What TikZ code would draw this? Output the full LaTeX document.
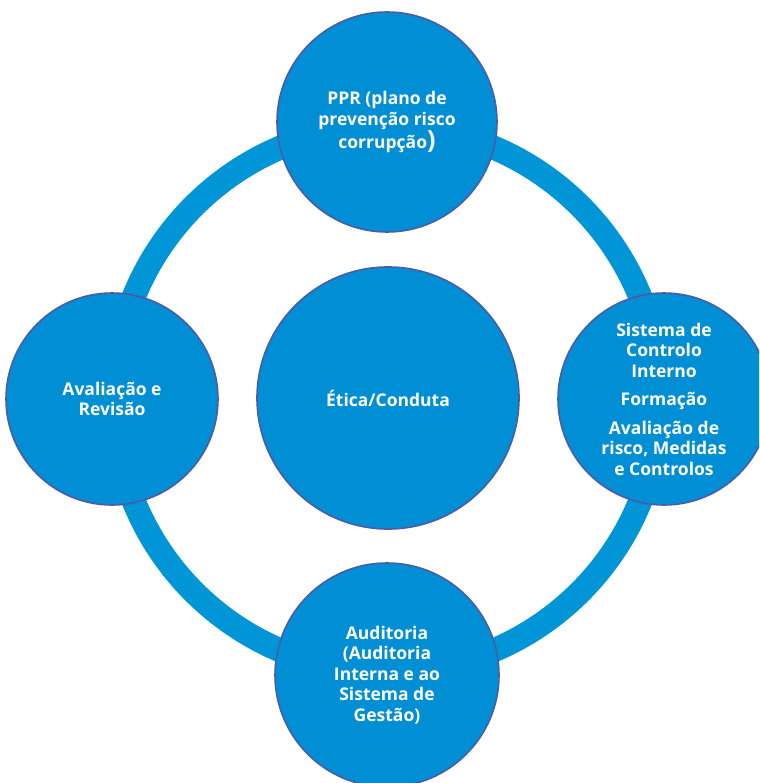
\documentclass[tikz,border=0pt]{standalone}
\usepackage{fontspec}
\setmainfont{Open Sans}
\definecolor{ringblue}{HTML}{0095D6}
\definecolor{fillblue}{HTML}{008FD5}
\definecolor{edgeblue}{HTML}{4A5CA8}
\begin{document}
\begin{tikzpicture}[x=1pt,y=-1pt,
  bub/.style={circle, fill=fillblue, draw=edgeblue, line width=1.6pt, text=white,
    font=\bfseries\fontsize{17.5}{20.5}\selectfont, align=center, inner sep=0pt},
  ringline/.style={draw=ringblue, line width=24pt}
]
\useasboundingbox (0,0) rectangle (759,783);
\clip (0,0) rectangle (759,783);
\coordinate (hub) at (387,399);
\draw[ringline] (hub) circle[radius=273];
\node[bub, minimum size=220pt] (ppr) at (387,122) {PPR (plano de\\prevenção risco\\corrupção{\fontsize{25}{20}\selectfont )}};
\node[bub, minimum size=212pt] (sci) at (664,399) {Sistema de\\Controlo\\Interno\\[8pt]Formação\\[8pt]Avaliação de\\risco, Medidas\\e Controlos};
\node[bub, minimum size=224pt] (aud) at (387,675) {Auditoria\\(Auditoria\\Interna e ao\\Sistema de\\Gestão)};
\node[bub, minimum size=212pt] (aval) at (112,399) {Avaliação e\\Revisão};
\node[bub, minimum size=262pt] (etica) at (388,398) {Ética/Conduta};
\end{tikzpicture}
\end{document}
